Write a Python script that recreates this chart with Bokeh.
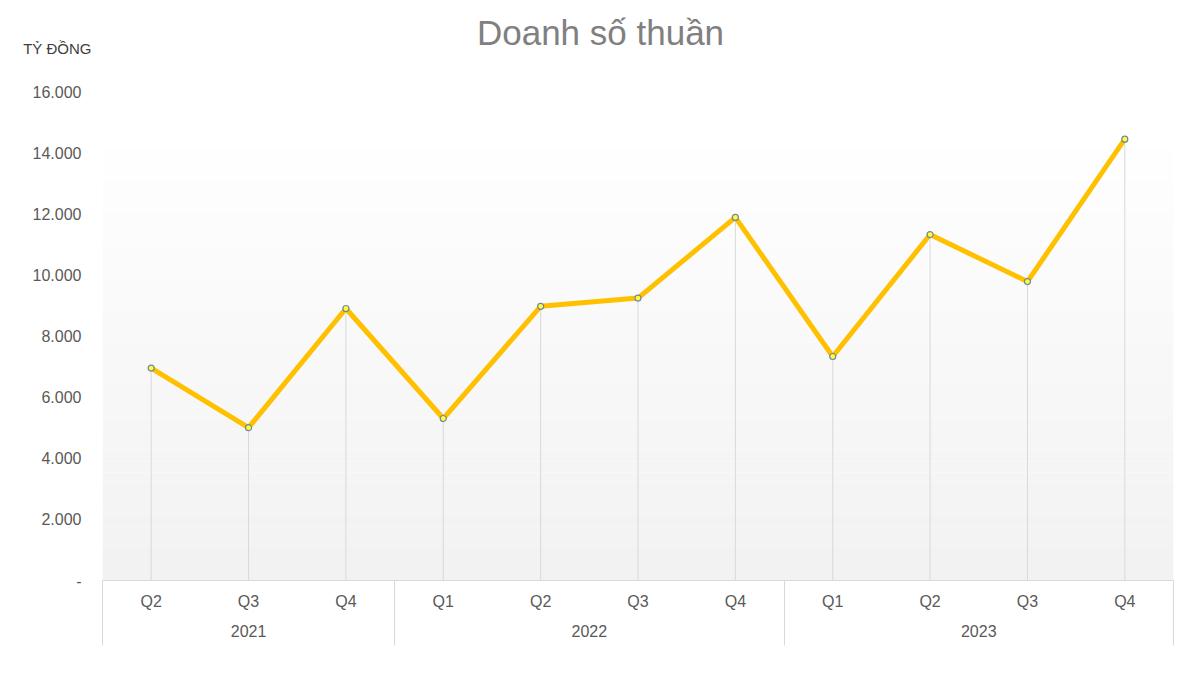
from bokeh.plotting import figure
from bokeh.models import (FactorRange, Range1d, LinearAxis, CategoricalAxis,
                          FixedTicker, ColumnDataSource, Label)
from bokeh.embed import file_html
from bokeh.resources import INLINE

# data (ty dong)
years = ["2021", "2021", "2021", "2022", "2022", "2022", "2022",
         "2023", "2023", "2023", "2023"]
quarters = ["Q2", "Q3", "Q4", "Q1", "Q2", "Q3", "Q4", "Q1", "Q2", "Q3", "Q4"]
sales = [6950, 5000, 8900, 5300, 8970, 9240, 11880, 7330, 11320, 9780, 14440]

y_ticks = [0, 2000, 4000, 6000, 8000, 10000, 12000, 14000, 16000]
y_labels = ["-", "2.000", "4.000", "6.000", "8.000", "10.000", "12.000",
            "14.000", "16.000"]

FONT = "Liberation Sans"
TXT = "#595959"
GRID = "#d9d9d9"

# the frame runs up to the top of the canvas so the title can sit inside it;
# 16.000 lands 91px below the top, the base 580px below it
H_PLOT = 580
Y_TOP = 16000 * H_PLOT / (H_PLOT - 91)
UNIT_AT = 16000 * (H_PLOT - 48) / (H_PLOT - 91)

factors = list(zip(years, quarters))
src = ColumnDataSource(data=dict(x=factors, y=sales, y0=[0] * len(sales)))

p = figure(width=1192, height=671, output_backend="svg", toolbar_location=None,
           x_range=FactorRange(*factors, range_padding=0, factor_padding=0,
                               group_padding=0, subgroup_padding=0),
           y_range=Range1d(0, Y_TOP), x_axis_location=None, y_axis_location=None,
           min_border_left=102, min_border_right=19, min_border_top=0,
           min_border_bottom=91)
p.outline_line_color = None
p.xgrid.grid_line_color = None
p.ygrid.grid_line_color = None
p.background_fill_color = "white"
p.border_fill_color = "white"

# full width of the category range in synthetic units, and the year borders
span = len(factors)
edges = [0]
for i in range(1, span):
    if years[i] != years[i - 1]:
        edges.append(i)
edges.append(span)

# soft grey gradient behind the line, white at the top, light grey at the base
n = 40
top = 14150
lo = [top * i / n for i in range(n)]
hi = [top * (i + 1) / n for i in range(n)]
cols = []
for i in range(n):
    c = int(242 + (255 - 242) * (i + 0.5) / n)
    cols.append("#%02x%02x%02x" % (c, c, c))
p.quad(left=[0] * n, right=[span] * n, bottom=lo, top=hi, fill_color=cols,
       line_color=None)

# drop lines and the series
p.segment(x0="x", y0="y0", x1="x", y1="y", source=src, line_color=GRID, line_width=1)
p.line(x="x", y="y", source=src, line_color="#ffc000", line_width=5)
p.scatter(x="x", y="y", source=src, size=6, fill_color="#ffff33",
          line_color="#6f86a8", line_width=1.2)

# y axis
ya = LinearAxis(ticker=FixedTicker(ticks=y_ticks),
                major_label_overrides={t: s for t, s in zip(y_ticks, y_labels)})
ya.axis_line_color = None
ya.major_tick_line_color = None
ya.major_tick_in = 0
ya.major_tick_out = 0
ya.minor_tick_line_color = None
ya.major_label_standoff = 21
ya.major_label_text_font = FONT
ya.major_label_text_font_size = "16px"
ya.major_label_text_color = TXT
p.add_layout(ya, "left")

# unit caption, pulled back over the number labels
ua = LinearAxis(ticker=FixedTicker(ticks=[UNIT_AT]),
                major_label_overrides={UNIT_AT: "TỶ ĐỒNG"})
ua.axis_line_color = None
ua.major_tick_line_color = None
ua.major_tick_in = 0
ua.major_tick_out = 0
ua.minor_tick_line_color = None
ua.major_label_standoff = -62
ua.major_label_text_font = FONT
ua.major_label_text_font_size = "15px"
ua.major_label_text_color = "#404040"
p.add_layout(ua, "left")

# category axis (quarters under years)
xa = CategoricalAxis()
xa.axis_line_color = GRID
xa.major_tick_line_color = None
xa.major_tick_in = 0
xa.major_tick_out = 0
xa.minor_tick_line_color = None
xa.major_label_standoff = 12
xa.major_label_text_font = FONT
xa.major_label_text_font_size = "16px"
xa.major_label_text_color = TXT
xa.group_text_font = FONT
xa.group_text_font_size = "16px"
xa.group_text_font_style = "normal"
xa.group_text_color = TXT
xa.separator_line_color = None
p.add_layout(xa, "below")

# table borders: outer edges and year separators
ea = LinearAxis(ticker=FixedTicker(ticks=edges),
                major_label_overrides={e: "" for e in edges})
ea.axis_line_color = None
ea.major_tick_line_color = GRID
ea.major_tick_in = 59
ea.major_tick_out = 6
ea.minor_tick_line_color = None
ea.major_label_standoff = 0
ea.major_label_text_font_size = "1px"
p.add_layout(ea, "below")

p.add_layout(Label(x=498, y=H_PLOT - 32, x_units="screen", y_units="screen",
                   text="Doanh số thuần", text_font=FONT,
                   text_font_size="35px", text_color="#808080",
                   text_align="center", text_baseline="middle"))

open("out.html", "w").write(file_html(p, INLINE))
